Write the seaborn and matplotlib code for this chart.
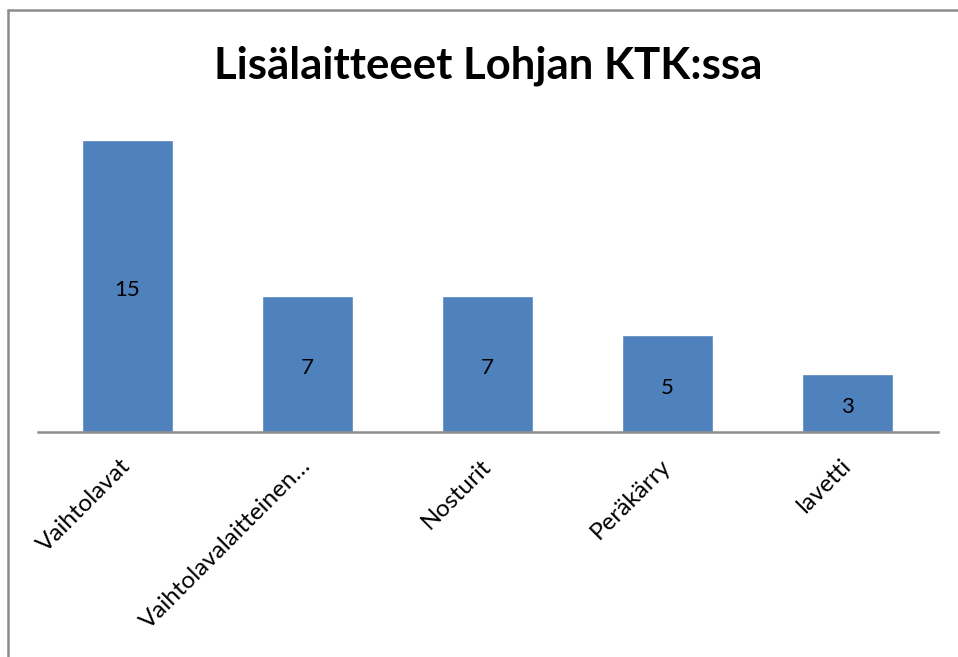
import matplotlib
matplotlib.use("Agg")
import matplotlib.pyplot as plt
import seaborn as sns
import pandas as pd
from matplotlib.lines import Line2D

# ---------------------------
# Chart data
# ---------------------------
categories = ["Vaihtolavat", "Vaihtolavalaitteinen\u2026", "Nosturit", "Peräkärry", "lavetti"]
counts = [15, 7, 7, 5, 3]
title = "Lisälaitteeet Lohjan KTK:ssa"

BAR_COLOR = "#4F81BD"
AXIS_GRAY = "#8C8C8C"

df = pd.DataFrame({"laite": categories, "määrä": counts})

sns.set_theme(style="white")
plt.rcParams["font.family"] = ["Lato", "DejaVu Sans"]
plt.rcParams["text.color"] = "black"
plt.rcParams["xtick.color"] = "black"

fig = plt.figure(figsize=(9.58, 6.57), dpi=100)
ax = fig.add_axes([37.5 / 958, 1 - 432 / 657, 900 / 958, (432 - 122.7) / 657])

sns.barplot(data=df, x="laite", y="määrä", color=BAR_COLOR, width=0.505,
            saturation=1, ax=ax)
ax.set_ylim(0, 15.9)
ax.set_xlim(-0.5, len(categories) - 0.5)

# value labels in the middle of each bar (nudged a little down like Excel)
for i, v in enumerate(counts):
    ax.annotate(str(v), xy=(i, v / 2), xytext=(0, -3), textcoords="offset points",
                ha="center", va="center", fontsize=16, color="black")

# axes styling
for side in ["top", "right", "left"]:
    ax.spines[side].set_visible(False)
ax.spines["bottom"].set_color(AXIS_GRAY)
ax.spines["bottom"].set_linewidth(1.8)
ax.set_yticks([])
ax.set_xlabel("")
ax.set_ylabel("")
ax.tick_params(axis="x", length=0, pad=22)
ax.set_xticks(range(len(categories)))
ax.set_xticklabels(categories, rotation=45, ha="right", va="center",
                   rotation_mode="anchor", fontsize=17.5, color="black")

fig.text(488 / 958, 1 - 66 / 657, title, ha="center", va="center",
         fontsize=31.5, fontweight="bold", color="black")

# chart frame (only top and left edges visible)
fig.add_artist(Line2D([8 / 958, 8 / 958], [0, 1 - 10 / 657],
                      transform=fig.transFigure, color=AXIS_GRAY, lw=1.8))
fig.add_artist(Line2D([8 / 958, 1], [1 - 10 / 657, 1 - 10 / 657],
                      transform=fig.transFigure, color=AXIS_GRAY, lw=1.8))

fig.savefig("out.png", dpi=100, facecolor="white")
